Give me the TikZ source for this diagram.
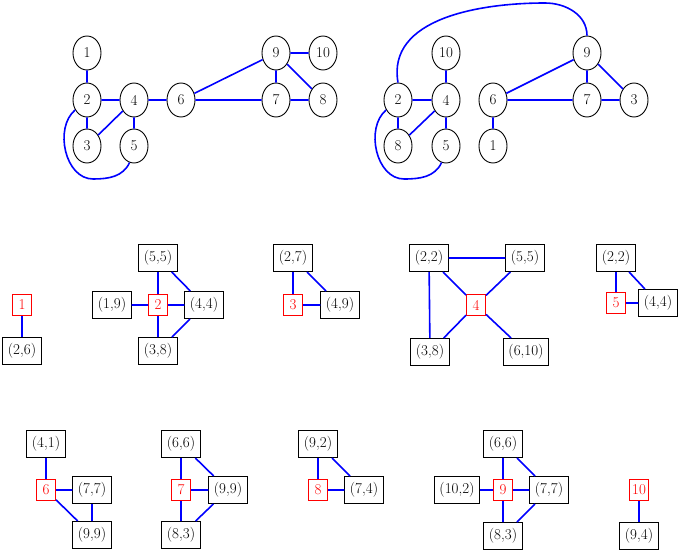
\documentclass[tikz,border=0pt]{standalone}
\usetikzlibrary{shapes.geometric}
\tikzset{
	vtx/.style={draw, ellipse, line width=0.9pt, inner sep=0pt, minimum width=28pt, minimum height=34pt},
	cell/.style={draw, line width=1pt, inner sep=5pt, minimum height=27pt},
	pivot/.style={draw=red, text=red, line width=1pt, inner sep=2pt, minimum width=19pt, minimum height=21pt},
	edge/.style={blue, line width=1.6pt}
}
\begin{document}
\begin{tikzpicture}[x=1pt, y=-1pt, font=\fontsize{15}{18}\selectfont]
	\useasboundingbox (0,0) rectangle (685,551);
	% first graph
	\node[vtx] (a1) at (87,53) {1};
	\node[vtx] (a2) at (87,100) {2};
	\node[vtx] (a4) at (134,100) {4};
	\node[vtx] (a6) at (181,100) {6};
	\node[vtx] (a3) at (87,146) {3};
	\node[vtx] (a5) at (134,146) {5};
	\node[vtx] (a9) at (276,53) {9};
	\node[vtx] (a10) at (323,53) {10};
	\node[vtx] (a7) at (276,100) {7};
	\node[vtx] (a8) at (323,100) {8};
	\coordinate (aloop) at (93,179);
	\draw[edge] (a1)--(a2) (a2)--(a4) (a4)--(a6) (a6)--(a9) (a6)--(a7) (a7)--(a9)
		(a9)--(a10) (a9)--(a8) (a7)--(a8) (a2)--(a3) (a3)--(a4) (a4)--(a5);
	\draw[edge] (a2.220) to[out=220,in=180] (aloop) to[out=0,in=-115] (a5.-105);
	% second graph
	\node[vtx] (b10) at (446,53) {10};
	\node[vtx] (b9) at (587,53) {9};
	\node[vtx] (b2) at (398,100) {2};
	\node[vtx] (b4) at (446,100) {4};
	\node[vtx] (b6) at (493,100) {6};
	\node[vtx] (b7) at (587,100) {7};
	\node[vtx] (b3) at (634,100) {3};
	\node[vtx] (b8) at (398,146) {8};
	\node[vtx] (b5) at (446,146) {5};
	\node[vtx] (b1) at (493,146) {1};
	\coordinate (bloop) at (404,179);
	\coordinate (btop) at (545,3);
	\draw[edge] (b2)--(b4) (b4)--(b10) (b2)--(b8) (b8)--(b4) (b4)--(b5) (b6)--(b9)
		(b6)--(b7) (b7)--(b9) (b9)--(b3) (b7)--(b3) (b6)--(b1);
	\draw[edge] (b2.220) to[out=220,in=180] (bloop) to[out=0,in=-115] (b5.-105);
	\draw[edge] (b2.north) to[out=100,in=180] (btop) to[out=0,in=90] (b9.north);
	% cells 1-5
	\node[pivot] (p1) at (22,305) {1};
	\node[cell] (c1a) at (22,351) {(2,6)};
	\draw[edge] (p1)--(c1a);
	\node[pivot] (p2) at (158,305) {2};
	\node[cell] (c2a) at (158,258) {(5,5)};
	\node[cell] (c2b) at (112,305) {(1,9)};
	\node[cell] (c2c) at (204,305) {(4,4)};
	\node[cell] (c2d) at (158,351) {(3,8)};
	\draw[edge] (c2a)--(p2) (c2b)--(p2) (p2)--(c2c) (p2)--(c2d) (c2a)--(c2c) (c2c)--(c2d);
	\node[pivot] (p3) at (293,305) {3};
	\node[cell] (c3a) at (293,258) {(2,7)};
	\node[cell] (c3b) at (340,305) {(4,9)};
	\draw[edge] (c3a)--(p3) (p3)--(c3b) (c3a)--(c3b);
	\node[pivot] (p4) at (476,305) {4};
	\node[cell] (c4a) at (429,258) {(2,2)};
	\node[cell] (c4b) at (525,258) {(5,5)};
	\node[cell] (c4c) at (430,352) {(3,8)};
	\node[cell] (c4d) at (526,352) {(6,10)};
	\draw[edge] (c4a)--(c4b) (c4a)--(c4c) (p4)--(c4a) (p4)--(c4b) (p4)--(c4c) (p4)--(c4d);
	\node[pivot] (p5) at (616,303) {5};
	\node[cell] (c5a) at (616,258) {(2,2)};
	\node[cell] (c5b) at (658,303) {(4,4)};
	\draw[edge] (c5a)--(p5) (p5)--(c5b) (c5a)--(c5b);
	% cells 6-10
	\node[pivot] (p6) at (46,490) {6};
	\node[cell] (c6a) at (46,444) {(4,1)};
	\node[cell] (c6b) at (92,490) {(7,7)};
	\node[cell] (c6c) at (92,535) {(9,9)};
	\draw[edge] (c6a)--(p6) (p6)--(c6b) (p6)--(c6c) (c6b)--(c6c);
	\node[pivot] (p7) at (181,490) {7};
	\node[cell] (c7a) at (181,444) {(6,6)};
	\node[cell] (c7b) at (228,490) {(9,9)};
	\node[cell] (c7c) at (181,535) {(8,3)};
	\draw[edge] (c7a)--(p7) (p7)--(c7b) (p7)--(c7c) (c7a)--(c7b) (c7b)--(c7c);
	\node[pivot] (p8) at (318,490) {8};
	\node[cell] (c8a) at (318,444) {(9,2)};
	\node[cell] (c8b) at (364,490) {(7,4)};
	\draw[edge] (c8a)--(p8) (p8)--(c8b) (c8a)--(c8b);
	\node[pivot] (p9) at (503,490) {9};
	\node[cell] (c9a) at (503,444) {(6,6)};
	\node[cell] (c9b) at (457,490) {(10,2)};
	\node[cell] (c9c) at (549,490) {(7,7)};
	\node[cell] (c9d) at (503,536) {(8,3)};
	\draw[edge] (c9a)--(p9) (c9b)--(p9) (p9)--(c9c) (p9)--(c9d) (c9a)--(c9c) (c9c)--(c9d);
	\node[pivot] (p10) at (639,490) {10};
	\node[cell] (c10a) at (639,536) {(9,4)};
	\draw[edge] (p10)--(c10a);
\end{tikzpicture}
\end{document}
